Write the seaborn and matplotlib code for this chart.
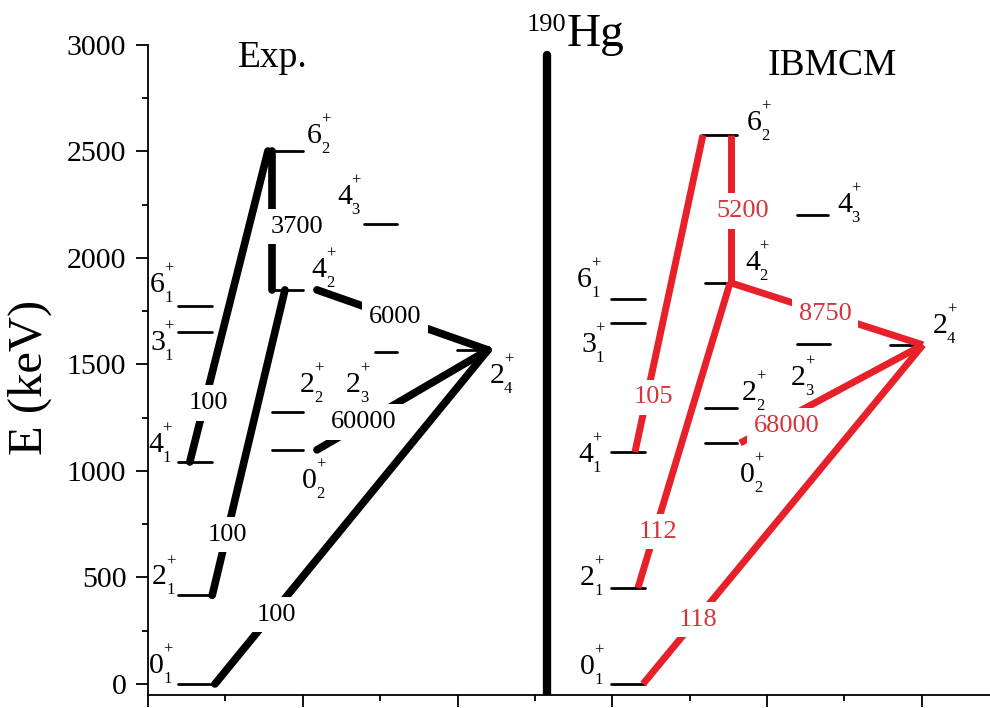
import matplotlib
matplotlib.use("Agg")
import matplotlib.pyplot as plt
import seaborn as sns
import pandas as pd

# ---------------- data ----------------
level_keys = ["0_1", "2_1", "4_1", "3_1", "6_1", "0_2", "2_2", "2_3", "2_4", "4_2", "4_3", "6_2"]
level_spin = ["0", "2", "4", "3", "6", "0", "2", "2", "2", "4", "4", "6"]
level_index = ["1", "1", "1", "1", "1", "2", "2", "3", "4", "2", "3", "2"]
exp_energy = [0, 416, 1042, 1653, 1775, 1099, 1277, 1559, 1568, 1850, 2160, 2502]
ibm_energy = [0, 451, 1089, 1695, 1808, 1131, 1296, 1596, 1592, 1883, 2202, 2577]

trans_from = ["4_1", "2_1", "0_1", "6_2", "4_2", "0_2"]
trans_to = ["6_2", "4_2", "2_4", "4_2", "2_4", "2_4"]
exp_be2 = ["100", "100", "100", "3700", "6000", "60000"]
ibm_be2 = ["105", "112", "118", "5200", "8750", "68000"]

y_ticks = [0, 500, 1000, 1500, 2000, 2500, 3000]
panel_titles = ["Exp.", "IBMCM"]
nucleus_mass = "190"
nucleus_symbol = "Hg"
y_label = "E (keV)"

# ---------------- layout (positions / styles) ----------------
A_exp, B_exp = (0.194, 0.414), (0.801, 1.0)
exp_bar = {"0_1": A_exp, "2_1": A_exp, "4_1": A_exp, "3_1": A_exp, "6_1": A_exp,
           "0_2": B_exp, "2_2": B_exp, "4_2": B_exp, "6_2": B_exp,
           "2_3": (1.467, 1.609), "4_3": (1.396, 1.609), "2_4": (1.997, 2.21)}
A_ibm, B_ibm = (2.992, 3.21), (3.599, 3.806)
ibm_bar = {"0_1": A_ibm, "2_1": A_ibm, "4_1": A_ibm, "3_1": A_ibm, "6_1": A_ibm,
           "0_2": B_ibm, "2_2": B_ibm, "4_2": (3.599, 3.761), "6_2": (3.58, 3.806),
           "2_3": (4.194, 4.407), "4_3": (4.194, 4.394), "2_4": (4.795, 4.989)}

# label anchor: (end of bar 's'/'e', dx px, dy px) -> left/baseline of main digit
exp_lab = {"0_1": ("s", -29, 11), "2_1": ("s", -26, 11), "4_1": ("s", -30, 10),
           "3_1": ("s", -28, -18), "6_1": ("s", -28, 14), "6_2": ("e", 4, 8),
           "4_2": ("e", 9, 13), "4_3": ("s", -27, 20), "2_2": ("e", -3, 20),
           "2_3": ("s", -29, -40), "0_2": ("e", -1, -38), "2_4": ("e", 0, -33)}
ibm_lab = {"0_1": ("s", -31, 10), "2_1": ("s", -31, 3), "4_1": ("s", -33, -10),
           "3_1": ("s", -30, -29), "6_1": ("s", -34, 12), "6_2": ("e", 10, 5),
           "4_2": ("e", 15, 13), "4_3": ("e", 9, 3), "2_4": ("e", 13, 12),
           "2_2": ("e", 5, 8), "2_3": ("s", -6, -41), "0_2": ("e", 3, -39)}

# transitions: x_from, x_to, label fraction along line, label dx px
exp_tr = [(0.27, 0.775, 0.19, 4), (0.415, 0.885, 0.198, 1), (0.433, 2.197, 0.207, 5),
          (0.801, 0.801, 0.546, 25), (1.092, 2.197, 0.45, 1), (1.092, 2.197, 0.279, -1)]
ibm_tr = [(3.147, 3.586, 0.173, 7), (3.166, 3.761, 0.184, 3), (3.199, 5.008, 0.19, 2),
          (3.767, 3.767, 0.513, 12), (3.767, 5.008, 0.50, -2), (3.826, 5.008, 0.174, 15)]

RED = "#E8202A"
RED_TXT = "#D8323C"

sns.set_theme(style="ticks")
plt.rcParams["font.family"] = ["Liberation Serif", "DejaVu Serif"]
plt.rcParams["axes.linewidth"] = 1.3
plt.rcParams["text.color"] = "black"
plt.rcParams["axes.labelcolor"] = "black"

fig = plt.figure(figsize=(9.9, 7.08), dpi=100)
ax = fig.add_axes([148 / 990, 1 - 695 / 708, 1 - 148 / 990, 650 / 708])
ax.set_xlim(0, 5.441)
ax.set_ylim(-52, 3000)


def draw_panel(energy, bars, labs, trs, strengths, line_color, txt_color, lw, cap):
    E = dict(zip(level_keys, energy))
    # levels
    rows = []
    for k in level_keys:
        x0, x1 = bars[k]
        rows += [{"x": x0, "E": E[k], "seg": k}, {"x": x1, "E": E[k], "seg": k}]
    sns.lineplot(data=pd.DataFrame(rows), x="x", y="E", units="seg", estimator=None,
                 sort=False, color="black", linewidth=2.0, ax=ax, legend=False, zorder=2)
    # transitions
    rows = []
    for i, (a, b) in enumerate(zip(trans_from, trans_to)):
        x0, x1, _, _ = trs[i]
        rows += [{"x": x0, "E": E[a], "seg": i}, {"x": x1, "E": E[b], "seg": i}]
    sns.lineplot(data=pd.DataFrame(rows), x="x", y="E", units="seg", estimator=None,
                 sort=False, color=line_color, linewidth=lw, ax=ax, legend=False,
                 zorder=2, solid_capstyle=cap)
    # transition labels
    for i, (a, b) in enumerate(zip(trans_from, trans_to)):
        x0, x1, f, dx = trs[i]
        xl = x0 + f * (x1 - x0)
        El = E[a] + f * (E[b] - E[a])
        ax.annotate(strengths[i], xy=(xl, El), xytext=(dx, 0), textcoords="offset pixels",
                    ha="center", va="center", fontsize=19, color=txt_color, zorder=3,
                    bbox=dict(boxstyle="square,pad=0.25", fc="white", ec="none"))
    # level labels
    for k, s, n in zip(level_keys, level_spin, level_index):
        side, dx, dy = labs[k]
        xa = bars[k][0] if side == "s" else bars[k][1]
        kw = dict(xy=(xa, E[k]), textcoords="offset pixels", color="black", zorder=4)
        ax.annotate(s, xytext=(dx, dy), ha="left", va="baseline", fontsize=21.5, **kw)
        ax.annotate(n, xytext=(dx + 14, dy - 10), ha="left", va="baseline", fontsize=12, **kw)
        ax.annotate("+", xytext=(dx + 19, dy + 23), ha="center", va="center", fontsize=12, **kw)


draw_panel(exp_energy, exp_bar, exp_lab, exp_tr, exp_be2, "black", "black", 5.5, "round")
draw_panel(ibm_energy, ibm_bar, ibm_lab, ibm_tr, ibm_be2, RED, RED_TXT, 5.0, "butt")

# separator
sns.lineplot(x=[2.578, 2.578], y=[-52, 2953], color="black", linewidth=6, ax=ax,
             sort=False, estimator=None, zorder=2)

# titles
ax.text(0.808, 2897, panel_titles[0], ha="center", va="baseline", fontsize=27, color="black")
ax.text(4.42, 2859, panel_titles[1], ha="center", va="baseline", fontsize=27, color="black")
ax.text(2.706, 2995, nucleus_symbol, ha="left", va="baseline", fontsize=34, color="black")
ax.text(2.70, 3068, nucleus_mass, ha="right", va="baseline", fontsize=19, color="black")

# axes
ax.set_yticks(y_ticks)
ax.set_yticks([250, 750, 1250, 1750, 2250, 2750], minor=True)
ax.set_xticks([0, 1, 2, 3, 4, 5])
ax.set_xticks([0.5, 1.5, 2.5, 3.5, 4.5], minor=True)
ax.tick_params(axis="both", which="major", direction="out", length=8.6, width=1.3,
               labelsize=21.5, color="black", labelcolor="black", pad=7)
ax.tick_params(axis="both", which="minor", direction="out", length=4.3, width=1.3, color="black")
ax.tick_params(axis="x", labelbottom=False)
ax.set_xlabel("")
ax.set_ylabel(y_label, fontsize=35, va="center", color="black")
ax.yaxis.set_label_coords(-0.140, 0.489)
sns.despine(ax=ax)
for sp in ["left", "bottom"]:
    ax.spines[sp].set_color("black")

fig.savefig("out.png", dpi=100)
